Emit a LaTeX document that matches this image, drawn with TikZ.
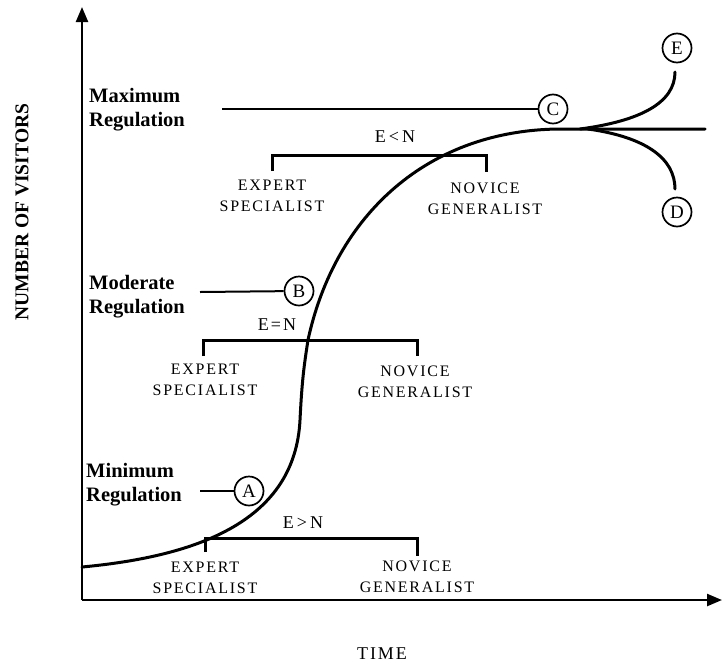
\documentclass[tikz,border=0pt]{standalone}
\usepackage{fontspec}
\setmainfont{Liberation Serif}
\newfontfamily\spaced[LetterSpace=11]{Liberation Serif}
\usetikzlibrary{arrows.meta}
\begin{document}
\begin{tikzpicture}[x=1pt,y=-1pt,
  axis/.style={line width=2.4pt,-{Triangle[length=15pt,width=12pt]}},
  bracket/.style={line width=3pt},
  curve/.style={line width=3pt,line cap=round,line join=round},
  leader/.style={line width=2pt},
  letterring/.style={circle,draw,fill=white,line width=1.7pt,minimum size=29pt,inner sep=0pt,font=\fontsize{19}{19}\selectfont},
  reg/.style={anchor=west,align=left,inner sep=0pt,font=\fontsize{20.5}{24}\selectfont\bfseries},
  role/.style={align=center,inner sep=0pt,font=\fontsize{16}{21.5}\selectfont\spaced},
  rel/.style={inner sep=0pt,font=\fontsize{18}{18}\selectfont\spaced}]
\useasboundingbox (0,0) rectangle (722,664);

% axes
\coordinate (O) at (82,600);
\coordinate (ytop) at (82,7);
\coordinate (xend) at (722,600);
\draw[axis] (O) -- (ytop);
\draw[axis] (O) -- (xend);
\node[rotate=90,inner sep=0pt,font=\fontsize{19.5}{19.5}\selectfont\bfseries] (ylab) at (22,212) {NUMBER OF VISITORS};
\node[inner sep=0pt,font=\fontsize{18}{18}\selectfont\spaced] (xlab) at (382,654) {TIME};

% growth curve: slow start, steep rise, levelling off
\coordinate (c0) at (82,567);
\coordinate (c1) at (300,420);
\coordinate (c2) at (308,340);
\coordinate (c3) at (562,129);
\coordinate (c4) at (705,129);
\draw[curve] (c0) .. controls (200,556) and (295,520) .. (c1)
  .. controls (302,380) and (304,366) .. (c2)
  .. controls (335,215) and (428,129) .. (c3) -- (c4);
% branches after C
\coordinate (bE) at (580,129);
\coordinate (bD) at (588,129);
\coordinate (eE) at (675,72);
\coordinate (eD) at (675,189);
\draw[curve] (bE) .. controls (640,121) and (675,103) .. (eE);
\draw[curve] (bD) .. controls (645,137) and (675,158) .. (eD);
\node[letterring] (E) at (677,48) {E};
\node[letterring] (D) at (677,212) {D};

% regulation levels
\node[reg] (maxr) at (89,110) {Maximum\\Regulation};
\node[reg] (modr) at (89,297) {Moderate\\Regulation};
\node[reg] (minr) at (86,485) {Minimum\\Regulation};
\node[letterring] (C) at (553,109) {C};
\node[letterring] (B) at (299,291) {B};
\node[letterring] (A) at (249,491) {A};
\coordinate (lc) at (222,109);
\coordinate (lb) at (200,292);
\coordinate (la) at (200,491);
\draw[leader] (lc) -- (C);
\draw[leader] (lb) -- (B);
\draw[leader] (la) -- (A);

% expert / novice ranges
\coordinate (t1) at (272,171); \coordinate (t2) at (486,172);
\draw[bracket] (t1) |- (379,155) -| (t2);
\node[rel] (ltN) at (395,137) {E\,<\,N};
\node[role] (ex1) at (272,196) {EXPERT\\SPECIALIST};
\node[role] (nv1) at (485,199) {NOVICE\\GENERALIST};

\coordinate (m1) at (203,356); \coordinate (m2) at (417,356);
\draw[bracket] (m1) |- (310,340) -| (m2);
\node[rel] (eqN) at (277,325) {E=N};
\node[role] (ex2) at (205,380) {EXPERT\\SPECIALIST};
\node[role] (nv2) at (415,382) {NOVICE\\GENERALIST};

\coordinate (b1) at (205,552); \coordinate (b2) at (417,556);
\draw[bracket] (b1) |- (310,538) -| (b2);
\node[rel] (gtN) at (303,523) {E\,>\,N};
\node[role] (ex3) at (205,578) {EXPERT\\SPECIALIST};
\node[role] (nv3) at (417,577) {NOVICE\\GENERALIST};
\end{tikzpicture}
\end{document}
